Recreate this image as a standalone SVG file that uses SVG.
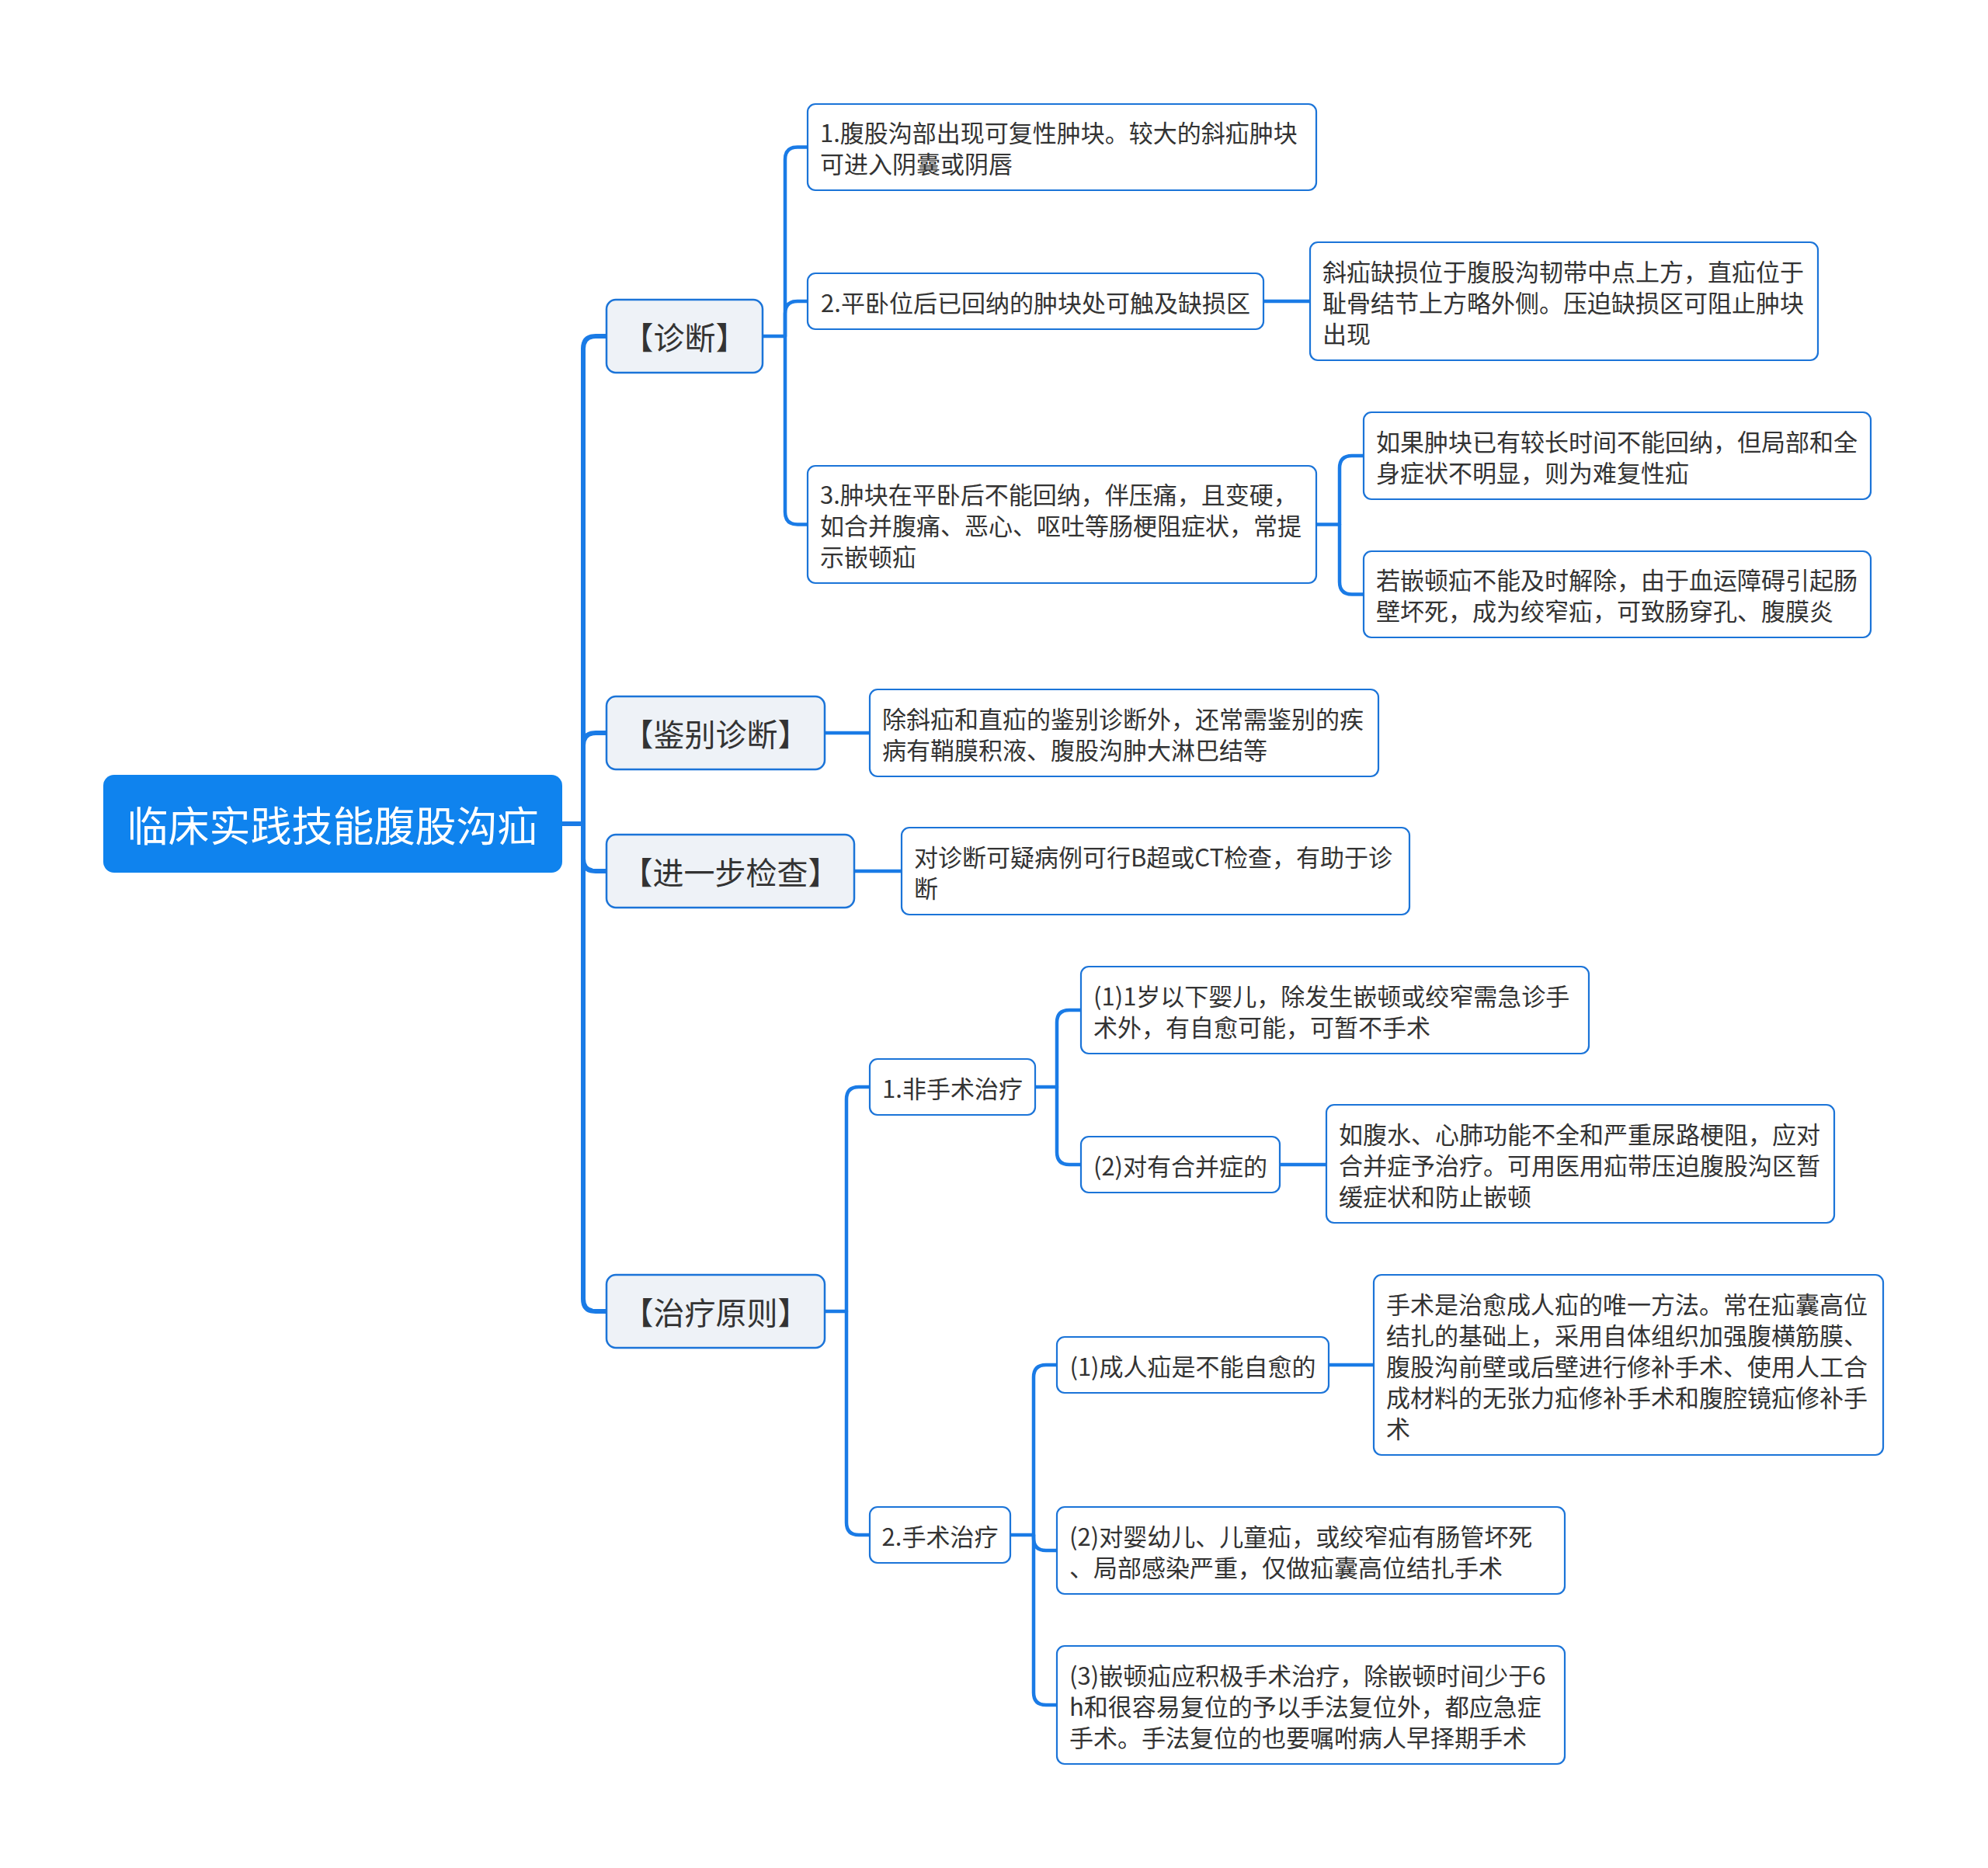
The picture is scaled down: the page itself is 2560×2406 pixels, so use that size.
<svg xmlns="http://www.w3.org/2000/svg" width="2560" height="2406" viewBox="0 0 2560 2406">
<style>
text{font-family:"Noto Sans CJK SC","Noto Sans",sans-serif;fill:#333;dominant-baseline:central}
.root rect{fill:#0F83EE}
.root text{fill:#fff;font-size:53px;text-anchor:middle}
.l1 rect{fill:#EEF2F7;stroke:#1B74D8;stroke-width:2.5}
.l1 text{font-size:40px;text-anchor:middle}
.n rect{fill:#fff;stroke:#1B74D8;stroke-width:2.2}
.n text{font-size:31px}
.n text.c{text-anchor:middle}
#connectors path{fill:none;stroke:#1A7BE6;stroke-width:4.5;stroke-linecap:round;stroke-linejoin:round}
#connectors path.trunk{stroke-width:6}
</style>
<rect width="2560" height="2406" fill="#fff"/>
<g id="connectors">
<path class="trunk" d="M724,1061 H751"/>
<path class="trunk" d="M751,1061 V449 Q751,433 767,433 H781"/>
<path class="trunk" d="M751,1061 V960 Q751,944 767,944 H781"/>
<path class="trunk" d="M751,1061 V1106 Q751,1122 767,1122 H781"/>
<path class="trunk" d="M751,1061 V1673 Q751,1689 767,1689 H781"/>
<path d="M982,433 H1011 V205.5 Q1011,189.5 1027,189.5 H1040"/>
<path d="M1011,433 V404 Q1011,388 1027,388 H1040"/>
<path d="M1011,433 V659.5 Q1011,675.5 1027,675.5 H1040"/>
<path d="M1627,388 H1687"/>
<path d="M1695,675.5 H1725 V603 Q1725,587 1741,587 H1756"/>
<path d="M1725,675.5 V749.5 Q1725,765.5 1741,765.5 H1756"/>
<path d="M1062,944 H1120"/>
<path d="M1100,1122 H1161"/>
<path d="M1062,1689 H1090 V1416 Q1090,1400 1106,1400 H1120"/>
<path d="M1090,1689 V1961 Q1090,1977 1106,1977 H1120"/>
<path d="M1333,1400 H1361 V1317 Q1361,1301 1377,1301 H1392"/>
<path d="M1361,1400 V1484 Q1361,1500 1377,1500 H1392"/>
<path d="M1648,1500 H1708"/>
<path d="M1301,1977 H1331 V1774 Q1331,1758 1347,1758 H1361"/>
<path d="M1331,1977 V1981 Q1331,1997 1347,1997 H1361"/>
<path d="M1331,1977 V2180 Q1331,2196 1347,2196 H1361"/>
<path d="M1711,1758 H1769"/>
</g>
<g id="root" class="root"><rect x="133" y="998" width="591" height="126" rx="14"/><text x="428.5" y="1061">临床实践技能腹股沟疝</text></g>
<g id="zhenduan" class="l1"><rect x="781" y="386" width="201" height="94" rx="12"/><text x="881.5" y="433">【诊断】</text></g>
<g id="jianbie" class="l1"><rect x="781" y="897" width="281" height="94" rx="12"/><text x="921.5" y="944">【鉴别诊断】</text></g>
<g id="jinyibu" class="l1"><rect x="781" y="1075" width="319" height="94" rx="12"/><text x="940.5" y="1122">【进一步检查】</text></g>
<g id="zhiliao" class="l1"><rect x="781" y="1642" width="281" height="94" rx="12"/><text x="921.5" y="1689">【治疗原则】</text></g>
<g id="zd1" class="n"><rect x="1040" y="134" width="655" height="111" rx="10"/><text x="1056" y="169.5">1.腹股沟部出现可复性肿块。较大的斜疝肿块</text><text x="1056" y="209.5">可进入阴囊或阴唇</text></g>
<g id="zd2" class="n"><rect x="1040" y="352" width="587" height="72" rx="10"/><text class="c" x="1333.5" y="388">2.平卧位后已回纳的肿块处可触及缺损区</text></g>
<g id="zd2a" class="n"><rect x="1687" y="312" width="654" height="152" rx="10"/><text x="1703" y="348">斜疝缺损位于腹股沟韧带中点上方，直疝位于</text><text x="1703" y="388">耻骨结节上方略外侧。压迫缺损区可阻止肿块</text><text x="1703" y="428">出现</text></g>
<g id="zd3" class="n"><rect x="1040" y="600" width="655" height="151" rx="10"/><text x="1056" y="635.5">3.肿块在平卧后不能回纳，伴压痛，且变硬，</text><text x="1056" y="675.5">如合并腹痛、恶心、呕吐等肠梗阻症状，常提</text><text x="1056" y="715.5">示嵌顿疝</text></g>
<g id="zd3a" class="n"><rect x="1756" y="531" width="653" height="112" rx="10"/><text x="1772" y="567">如果肿块已有较长时间不能回纳，但局部和全</text><text x="1772" y="607">身症状不明显，则为难复性疝</text></g>
<g id="zd3b" class="n"><rect x="1756" y="710" width="653" height="111" rx="10"/><text x="1772" y="745.5">若嵌顿疝不能及时解除，由于血运障碍引起肠</text><text x="1772" y="785.5">壁坏死，成为绞窄疝，可致肠穿孔、腹膜炎</text></g>
<g id="jb1" class="n"><rect x="1120" y="888" width="655" height="112" rx="10"/><text x="1136" y="924">除斜疝和直疝的鉴别诊断外，还常需鉴别的疾</text><text x="1136" y="964">病有鞘膜积液、腹股沟肿大淋巴结等</text></g>
<g id="jy1" class="n"><rect x="1161" y="1066" width="654" height="112" rx="10"/><text x="1177" y="1102">对诊断可疑病例可行B超或CT检查，有助于诊</text><text x="1177" y="1142">断</text></g>
<g id="zl1" class="n"><rect x="1120" y="1364" width="213" height="72" rx="10"/><text class="c" x="1226.5" y="1400">1.非手术治疗</text></g>
<g id="zl1a" class="n"><rect x="1392" y="1245" width="654" height="112" rx="10"/><text x="1408" y="1281">(1)1岁以下婴儿，除发生嵌顿或绞窄需急诊手</text><text x="1408" y="1321">术外，有自愈可能，可暂不手术</text></g>
<g id="zl1b" class="n"><rect x="1392" y="1464" width="256" height="72" rx="10"/><text class="c" x="1520" y="1500">(2)对有合并症的</text></g>
<g id="zl1bc" class="n"><rect x="1708" y="1423" width="654" height="152" rx="10"/><text x="1724" y="1459">如腹水、心肺功能不全和严重尿路梗阻，应对</text><text x="1724" y="1499">合并症予治疗。可用医用疝带压迫腹股沟区暂</text><text x="1724" y="1539">缓症状和防止嵌顿</text></g>
<g id="zl2" class="n"><rect x="1120" y="1941" width="181" height="72" rx="10"/><text class="c" x="1210.5" y="1977">2.手术治疗</text></g>
<g id="zl2a" class="n"><rect x="1361" y="1722" width="350" height="72" rx="10"/><text class="c" x="1536" y="1758">(1)成人疝是不能自愈的</text></g>
<g id="zl2ac" class="n"><rect x="1769" y="1642" width="656" height="232" rx="10"/><text x="1785" y="1678">手术是治愈成人疝的唯一方法。常在疝囊高位</text><text x="1785" y="1718">结扎的基础上，采用自体组织加强腹横筋膜、</text><text x="1785" y="1758">腹股沟前壁或后壁进行修补手术、使用人工合</text><text x="1785" y="1798">成材料的无张力疝修补手术和腹腔镜疝修补手</text><text x="1785" y="1838">术</text></g>
<g id="zl2b" class="n"><rect x="1361" y="1941" width="654" height="112" rx="10"/><text x="1377" y="1977">(2)对婴幼儿、儿童疝，或绞窄疝有肠管坏死</text><text x="1377" y="2017">、局部感染严重，仅做疝囊高位结扎手术</text></g>
<g id="zl2c" class="n"><rect x="1361" y="2120" width="654" height="152" rx="10"/><text x="1377" y="2156">(3)嵌顿疝应积极手术治疗，除嵌顿时间少于6</text><text x="1377" y="2196">h和很容易复位的予以手法复位外，都应急症</text><text x="1377" y="2236">手术。手法复位的也要嘱咐病人早择期手术</text></g>
</svg>
